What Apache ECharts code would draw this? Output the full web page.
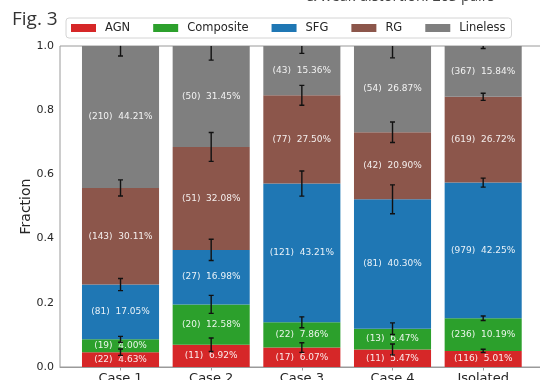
<!DOCTYPE html>
<html>
<head>
<meta charset="utf-8">
<script src="https://cdn.jsdelivr.net/npm/echarts@6/dist/echarts.min.js"></script>
<style>
  html, body { margin: 0; padding: 0; background: #fff; }
  #chart { width: 540px; height: 380px; }
</style>
</head>
<body>
<div id="chart"></div>
<script>
// Sample groups along the x axis
const categories = ['Case 1', 'Case 2', 'Case 3', 'Case 4', 'Isolated'];

// Percentage of each spectral class per group, with galaxy counts and 1-sigma errors (as fractions)
const agnPct = [4.63, 6.92, 6.07, 5.47, 5.01];
const agnN = [22, 11, 17, 11, 116];
const agnErr = [0.010, 0.021, 0.015, 0.017, 0.005];

const compPct = [4.00, 12.58, 7.86, 6.47, 10.19];
const compN = [19, 20, 22, 13, 236];
const compErr = [0.009, 0.028, 0.017, 0.018, 0.007];

const sfgPct = [17.05, 16.98, 43.21, 40.30, 42.25];
const sfgN = [81, 27, 121, 81, 979];
const sfgErr = [0.019, 0.033, 0.039, 0.045, 0.014];

const rgPct = [30.11, 32.08, 27.50, 20.90, 26.72];
const rgN = [143, 51, 77, 42, 619];
const rgErr = [0.025, 0.045, 0.031, 0.032, 0.011];

const linelessPct = [44.21, 31.45, 15.36, 26.87, 15.84];
const linelessN = [210, 50, 43, 54, 367];
const linelessErr = [0.031, 0.044, 0.023, 0.037, 0.008];

const yTicks = [0, 0.2, 0.4, 0.6, 0.8, 1.0];

const classes = [
  { name: 'AGN', pct: agnPct, n: agnN, err: agnErr, color: '#d62728' },
  { name: 'Composite', pct: compPct, n: compN, err: compErr, color: '#2ca02c' },
  { name: 'SFG', pct: sfgPct, n: sfgN, err: sfgErr, color: '#1f77b4' },
  { name: 'RG', pct: rgPct, n: rgN, err: rgErr, color: '#8c564b' },
  { name: 'Lineless', pct: linelessPct, n: linelessN, err: linelessErr, color: '#7f7f7f' }
];

const BAR_WIDTH = 0.85;          // in axis units
const X_MIN = -0.6675, X_MAX = 4.6675;
const FONT = 'DejaVu Sans';

// Build stacked segments: each item is [x, bottom, top, count, pct]
const running = categories.map(() => 0);
const barSeries = [];
const errData = [];
classes.forEach(cls => {
  const data = categories.map((c, i) => {
    const bottom = running[i];
    const top = bottom + cls.pct[i] / 100;
    running[i] = top;
    errData.push([i, top, cls.err[i]]);
    return [i, bottom, top, cls.n[i], cls.pct[i]];
  });
  barSeries.push({
    type: 'custom',
    name: cls.name,
    itemStyle: { color: cls.color },
    encode: { x: 0, y: [1, 2] },
    data: data,
    z: 2,
    renderItem: (params, api) => {
      const x = api.value(0);
      const pLow = api.coord([x, api.value(1)]);
      const pHigh = api.coord([x, api.value(2)]);
      const w = api.size([BAR_WIDTH, 0])[0];
      const label = '(' + api.value(3) + ')  ' + Number(api.value(4)).toFixed(2) + '%';
      return {
        type: 'rect',
        shape: { x: pLow[0] - w / 2, y: pHigh[1], width: w, height: pLow[1] - pHigh[1] },
        style: { fill: cls.color },
        textContent: {
          style: {
            text: label,
            fill: 'rgba(255,255,255,0.9)',
            fontFamily: FONT,
            fontSize: 9
          }
        },
        textConfig: { position: 'inside' }
      };
    }
  });
});

// Error bars at the top of every stacked segment, clipped to the plot area
const errorSeries = {
  type: 'custom',
  name: 'errors',
  z: 5,
  encode: { x: 0, y: 1 },
  data: errData,
  renderItem: (params, api) => {
    const x = api.value(0), y = api.value(1), e = api.value(2);
    const hi = api.coord([x, y + e]);
    const lo = api.coord([x, y - e]);
    const cap = 2.5;
    const st = { stroke: '#111', lineWidth: 1.4 };
    const cs = params.coordSys;
    return {
      type: 'group',
      clipPath: { type: 'rect', shape: { x: cs.x, y: cs.y, width: cs.width, height: cs.height } },
      children: [
        { type: 'line', shape: { x1: hi[0], y1: hi[1], x2: lo[0], y2: lo[1] }, style: st },
        { type: 'line', shape: { x1: hi[0] - cap, y1: hi[1], x2: hi[0] + cap, y2: hi[1] }, style: st },
        { type: 'line', shape: { x1: lo[0] - cap, y1: lo[1], x2: lo[0] + cap, y2: lo[1] }, style: st }
      ]
    };
  }
};

const chart = echarts.init(document.getElementById('chart'), null, { renderer: 'canvas' });
chart.setOption({
  animation: false,
  backgroundColor: '#fff',
  grid: {
    left: 60, top: 46, width: 483.7, height: 321,
    outerBoundsMode: 'none',
    show: true, borderColor: '#9a9a9a', borderWidth: 1, backgroundColor: 'transparent'
  },
  legend: {
    left: 66, top: 18,
    icon: 'rect', itemWidth: 25, itemHeight: 8, itemGap: 23,
    padding: [4, 6, 4, 5],
    borderColor: '#d4d4d4', borderWidth: 1, borderRadius: 3, backgroundColor: '#fff',
    textStyle: { fontFamily: FONT, fontSize: 11.5, color: '#262626', padding: [0, 0, 0, 4] },
    data: classes.map(c => c.name)
  },
  xAxis: {
    type: 'value', min: X_MIN, max: X_MAX,
    axisLine: { show: true, lineStyle: { color: '#9a9a9a', width: 1 } },
    axisTick: { show: true, length: 3.5, lineStyle: { color: '#9a9a9a' }, customValues: categories.map((c, i) => i) },
    axisLabel: {
      customValues: categories.map((c, i) => i),
      formatter: v => categories[Math.round(v)],
      fontFamily: FONT, fontSize: 13, color: '#262626', margin: 5
    },
    splitLine: { show: false }
  },
  yAxis: {
    type: 'value', min: 0, max: 1, interval: 0.2,
    name: 'Fraction', nameLocation: 'middle', nameGap: 27, nameMoveOverlap: false,
    nameTextStyle: { fontFamily: FONT, fontSize: 14, color: '#262626' },
    axisLine: { show: true, lineStyle: { color: '#9a9a9a', width: 1 } },
    axisTick: { show: true, length: 4, lineStyle: { color: '#9a9a9a' } },
    axisLabel: {
      customValues: yTicks,
      formatter: v => v.toFixed(1),
      fontFamily: FONT, fontSize: 11, color: '#262626', margin: 6
    },
    splitLine: { show: false }
  },
  graphic: [
    {
      type: 'text', x: 12, y: 29,
      style: { text: 'Fig. 3', fontFamily: 'Open Sans', fontSize: 19, fill: '#333', verticalAlign: 'bottom' }
    },
    {
      type: 'text', x: 306, y: 4.5,
      style: { text: '& weak distortion: 203 pairs', fontFamily: 'Open Sans', fontSize: 14.5, fill: '#444', verticalAlign: 'bottom' }
    }
  ],
  series: barSeries.concat([errorSeries])
});
</script>
</body>
</html>
